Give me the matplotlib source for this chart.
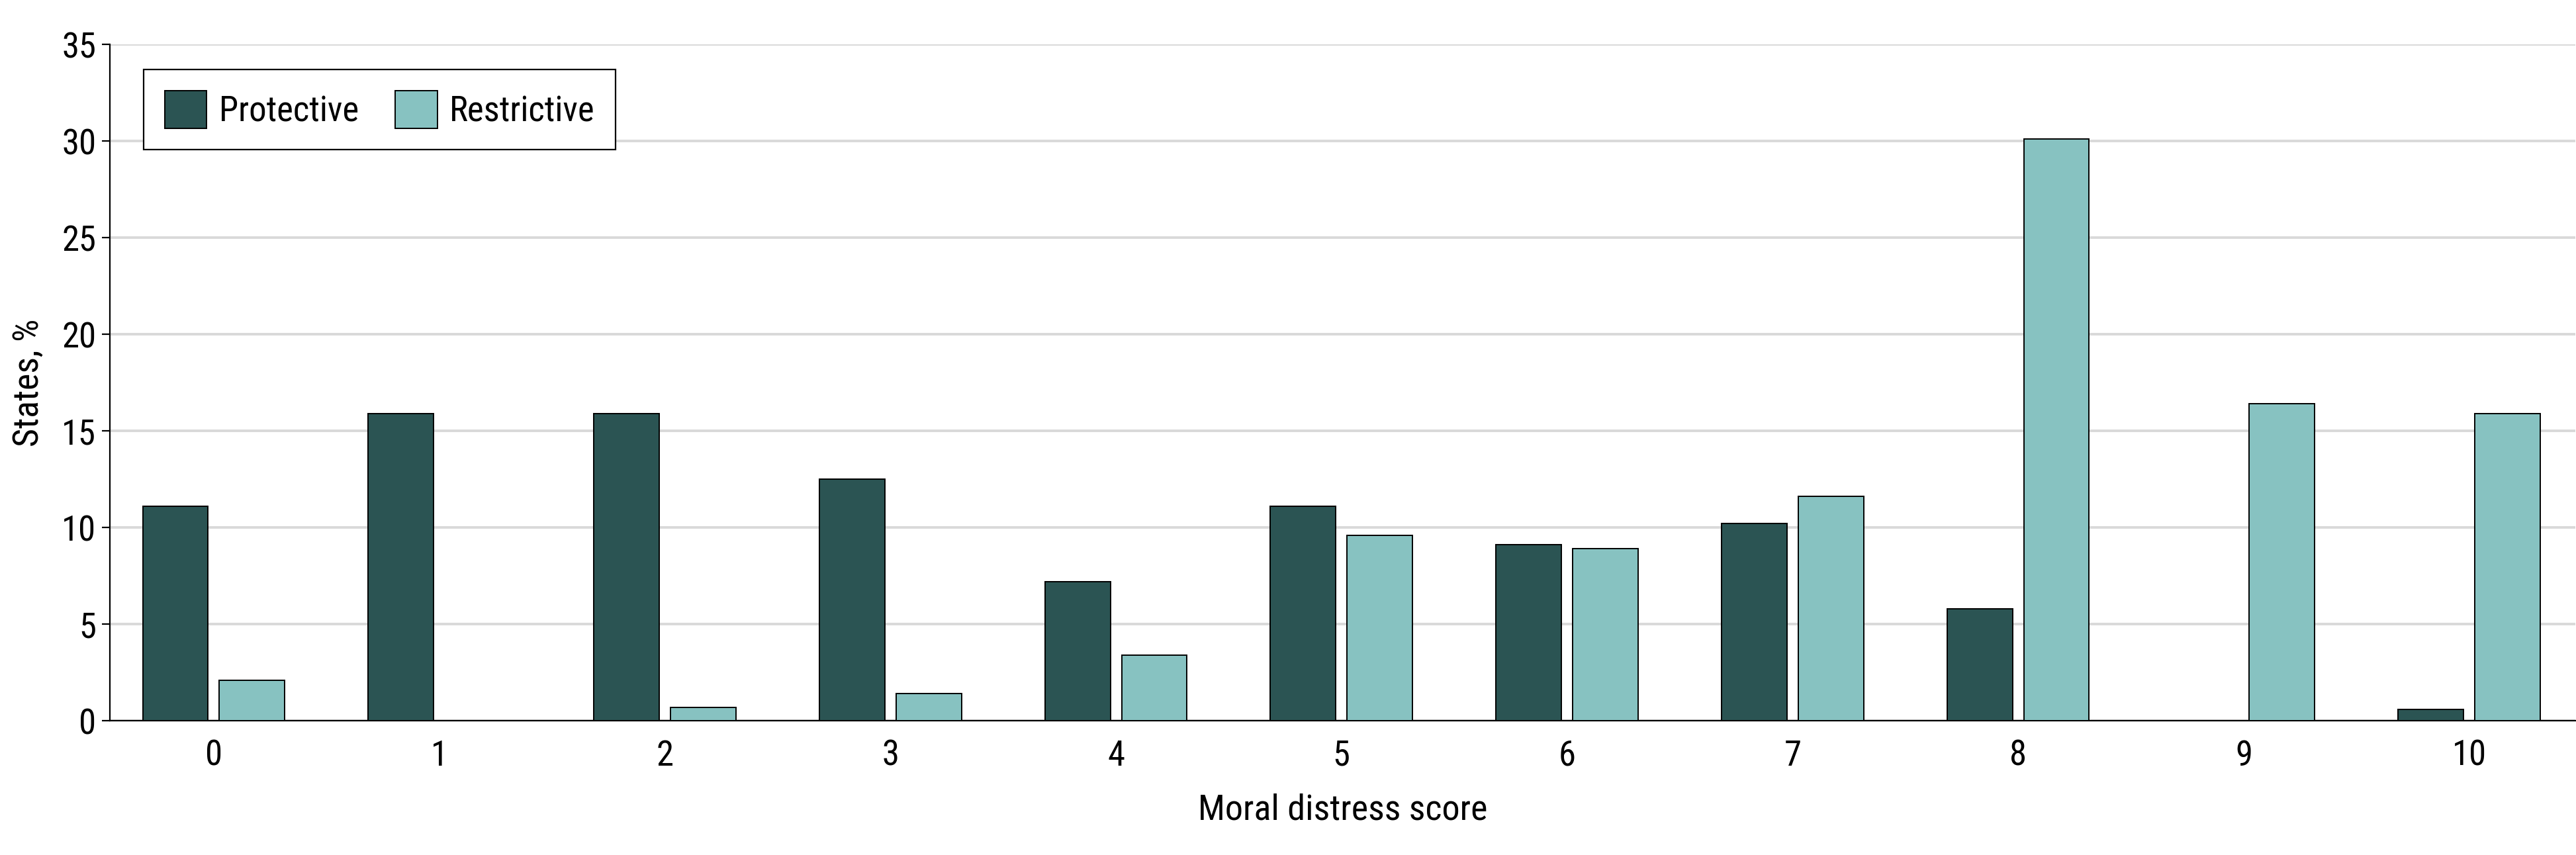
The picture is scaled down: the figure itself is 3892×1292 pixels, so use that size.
"""Grouped bar chart: moral distress score by state policy type."""

import matplotlib

matplotlib.use("Agg")

import matplotlib.pyplot as plt
import numpy as np
from matplotlib import font_manager

scores = ["0", "1", "2", "3", "4", "5", "6", "7", "8", "9", "10"]
protective = [11.1, 15.9, 15.9, 12.5, 7.2, 11.1, 9.1, 10.2, 5.8, 0.0, 0.6]
restrictive = [2.1, 0.0, 0.7, 1.4, 3.4, 9.6, 8.9, 11.6, 30.1, 16.4, 15.9]
series_names = ["Protective", "Restrictive"]
y_ticks = [0, 5, 10, 15, 20, 25, 30, 35]

DARK = "#2b5453"
LIGHT = "#87c2c1"

# prefer a narrow face, like the original
installed = {f.name for f in font_manager.fontManager.ttflist}
family = "DejaVu Sans"
for name in ["Liberation Sans Narrow", "Roboto Condensed", "Open Sans Condensed"]:
    if name in installed:
        family = name
        break
plt.rcParams["font.family"] = [family, "DejaVu Sans"]
if family == "DejaVu Sans":
    plt.rcParams["font.stretch"] = "condensed"

fig = plt.figure(figsize=(38.92, 12.92), dpi=100)
ax = fig.add_axes([0.0427, 0.157, 0.957, 0.791])

x = np.arange(len(scores))
width = 0.29
offset = 0.17
ax.bar(x - offset, protective, width, color=DARK, edgecolor="black",
       linewidth=1.4, label=series_names[0], zorder=3)
ax.bar(x + offset, restrictive, width, color=LIGHT, edgecolor="black",
       linewidth=1.4, label=series_names[1], zorder=3)

ax.set_xlim(-0.46, 10.47)
ax.set_ylim(0, 35)
ax.set_yticks(y_ticks)
ax.set_xticks(x)
ax.set_xticklabels(scores)
ax.yaxis.grid(True, color="#d9d9d9", linewidth=2.8, zorder=0)
ax.set_axisbelow(True)

for side in ["top", "right"]:
    ax.spines[side].set_visible(False)
ax.spines["left"].set_linewidth(1.6)
ax.spines["bottom"].set_linewidth(1.6)

ax.tick_params(axis="y", labelsize=38, length=9, width=1.6, pad=6)
ax.tick_params(axis="x", labelsize=38, length=0, pad=20)

ax.set_xlabel("Moral distress score", fontsize=39, labelpad=22)
ax.set_ylabel("States, %", fontsize=39, labelpad=18)

leg = ax.legend(loc="upper left", bbox_to_anchor=(0.0137, 0.963), ncol=2,
                fontsize=38, frameon=True, fancybox=False, framealpha=1,
                edgecolor="black", handlelength=1.2, handleheight=1.3,
                handletextpad=0.35, columnspacing=1.05, borderpad=0.6,
                borderaxespad=0)
leg.get_frame().set_linewidth(1.6)

fig.savefig("out.png", dpi=100)
plt.close(fig)
